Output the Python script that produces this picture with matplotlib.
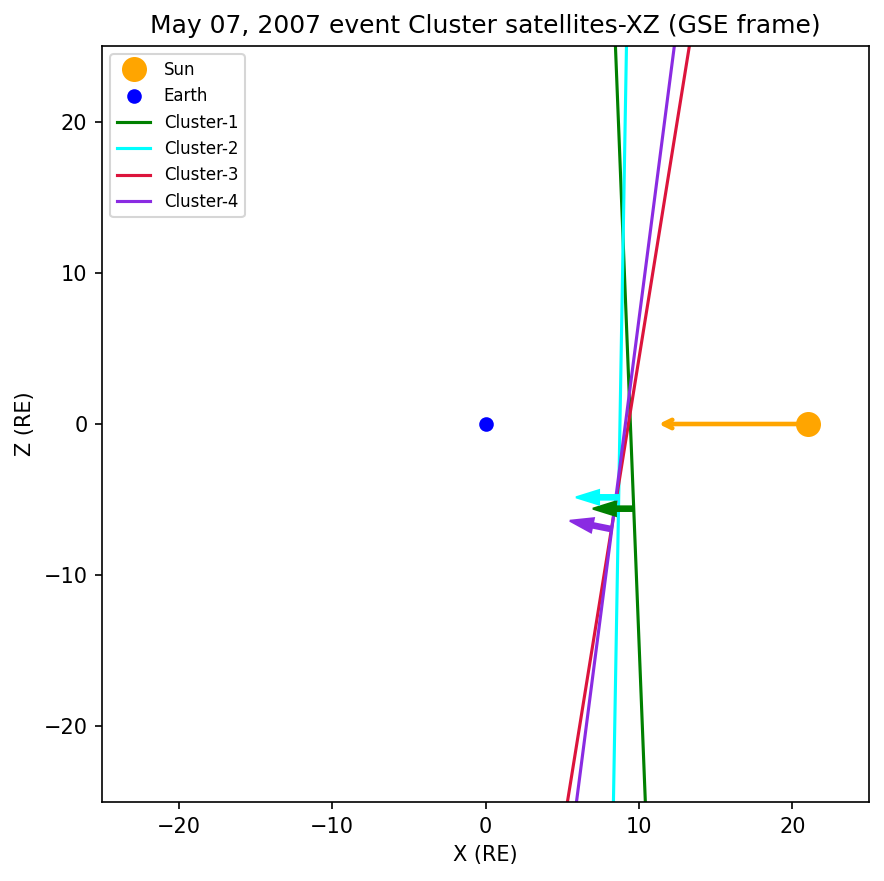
import matplotlib
matplotlib.use("Agg")
import matplotlib.pyplot as plt

# Data
sun_pos = (21.0, 0.0)
earth_pos = (0.0, 0.0)
sun_arrow_tip = (11.3, 0.0)

names = ["Cluster-1", "Cluster-2", "Cluster-3", "Cluster-4"]
colors = ["green", "cyan", "crimson", "blueviolet"]
# x positions of the lines at z = +25 and z = -25
x_top = [8.47, 9.19, 13.29, 12.31]
x_bot = [10.42, 8.34, 5.34, 5.93]
z_top = 25
z_bot = -25
# velocity arrows: tail (x, z) and tip (x, z)
arrow_tail_x = [9.6, 8.7, None, 8.2]
arrow_tail_z = [-5.6, -4.85, None, -6.95]
arrow_tip_x = [7.0, 5.9, None, 5.5]
arrow_tip_z = [-5.6, -4.85, None, -6.4]

fig = plt.figure(figsize=(884/150, 881/150), dpi=150)
ax = fig.add_axes([102/884, 1-802/881, (869-102)/884, (802-46)/881])

ax.plot(*sun_pos, 'o', color='orange', markersize=11, label='Sun')
ax.plot(*earth_pos, 'o', color='blue', markersize=6, label='Earth')
ax.annotate('', xy=sun_arrow_tip, xytext=sun_pos,
            arrowprops=dict(arrowstyle='->', color='orange', lw=2.2,
                            shrinkA=0, shrinkB=0))

for i, (n, c) in enumerate(zip(names, colors)):
    ax.plot([x_top[i], x_bot[i]], [z_top, z_bot], color=c, lw=1.5, label=n)
    if arrow_tail_x[i] is not None:
        ax.arrow(arrow_tail_x[i], arrow_tail_z[i],
                 arrow_tip_x[i] - arrow_tail_x[i], arrow_tip_z[i] - arrow_tail_z[i],
                 width=0.3, head_width=0.95, head_length=1.5,
                 length_includes_head=True, color=c, zorder=3)

ax.set_xlim(-25, 25)
ax.set_ylim(-25, 25)
ax.set_xlabel('X (RE)')
ax.set_ylabel('Z (RE)')
ax.set_title('May 07, 2007 event Cluster satellites-XZ (GSE frame)')
ax.legend(loc='upper left', fontsize=8)

fig.savefig('out.png', dpi=150)
